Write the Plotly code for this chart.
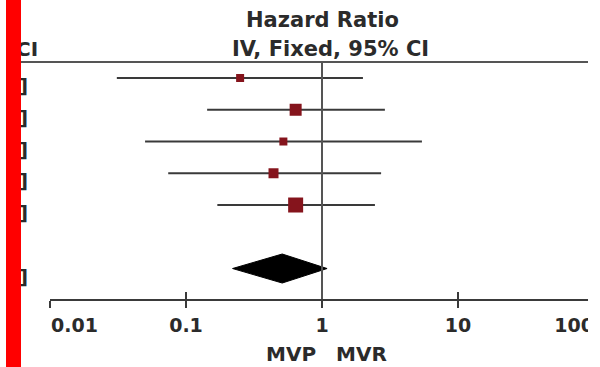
import plotly.graph_objects as go

# ---- data ----
study_est = [0.25, 0.64, 0.52, 0.44, 0.64]
ci_low = [0.031, 0.143, 0.050, 0.074, 0.17]
ci_high = [2.00, 2.90, 5.43, 2.72, 2.45]
weight_size = [8, 12, 8, 10, 15]
row_pos = [1, 2, 3, 4, 5]
pooled_est = 0.51
pooled_low = 0.22
pooled_high = 1.09
pooled_pos = 7
tick_vals = [0.01, 0.1, 1, 10, 100]
tick_labels = ["0.01", "0.1", "1", "10", "100"]
header_top = "Hazard Ratio"
header_bottom = "IV, Fixed, 95% CI"
ci_header_tail = "CI"
ci_text_tail = "]"
favours_left = "MVP"
favours_right = "MVR"

# ---- style ----
FONT = dict(family="DejaVu Sans", size=20, color="#2b2b2b", weight="bold")
HFONT = dict(family="DejaVu Sans", size=21, color="#2b2b2b", weight="bold")
LINE_C = "#3a3a3a"
MARK_C = "#85141c"
DIAMOND_HALF = 0.457

fig = go.Figure()

# CI lines
xs, ys = [], []
for lo, hi, r in zip(ci_low, ci_high, row_pos):
    xs += [lo, hi, None]
    ys += [r, r, None]
fig.add_trace(go.Scatter(x=xs, y=ys, mode="lines", line=dict(color=LINE_C, width=2),
                         hoverinfo="skip", showlegend=False))
# squares
fig.add_trace(go.Scatter(x=study_est, y=row_pos, mode="markers",
                         marker=dict(symbol="square", size=weight_size, color=MARK_C,
                                     opacity=1, line=dict(width=0)),
                         showlegend=False))
# pooled diamond
fig.add_trace(go.Scatter(
    x=[pooled_low, pooled_est, pooled_high, pooled_est, pooled_low],
    y=[pooled_pos, pooled_pos - DIAMOND_HALF, pooled_pos, pooled_pos + DIAMOND_HALF, pooled_pos],
    mode="lines", fill="toself", fillcolor="black", line=dict(color="black", width=1),
    showlegend=False, hoverinfo="skip"))
# empty traces so the overlay axes exist
fig.add_trace(go.Scatter(x=[], y=[], xaxis="x2", showlegend=False))
fig.add_trace(go.Scatter(x=[], y=[], xaxis="x3", showlegend=False))

tickfont = dict(family="DejaVu Sans", size=19, color="#2b2b2b", weight="bold")
common = dict(type="log", range=[-2, 2], showgrid=False, zeroline=False, fixedrange=True)

fig.update_layout(
    width=600, height=367,
    margin=dict(l=50, r=6, t=62, b=68),
    paper_bgcolor="white", plot_bgcolor="white",
    xaxis=dict(**common, showline=True, linecolor=LINE_C, linewidth=2,
               ticks="outside", ticklen=7, tickwidth=2, tickcolor=LINE_C,
               tickvals=tick_vals, ticktext=[""] + tick_labels[1:-1] + [""],
               tickfont=tickfont, ticklabelstandoff=1),
    xaxis2=dict(**common, overlaying="x", anchor="y", side="bottom", showline=False,
                ticks="inside", ticklen=7, tickwidth=2, tickcolor=LINE_C,
                tickvals=tick_vals, ticktext=[tick_labels[0]] + [""] * 4,
                ticklabelposition="outside right", tickfont=tickfont, ticklabelstandoff=13),
    xaxis3=dict(**common, overlaying="x", anchor="y", side="bottom", showline=False,
                ticks="", tickvals=[tick_vals[-1]], ticktext=[tick_labels[-1]],
                ticklabelposition="outside left", tickfont=tickfont, ticklabelstandoff=13),
    yaxis=dict(range=[7.96, 0.496], visible=False, fixedrange=True),
    showlegend=False,
)

# shapes
fig.add_shape(type="line", xref="x", yref="paper", x0=1, x1=1, y0=0, y1=1,
              line=dict(color="#555", width=2))
fig.add_shape(type="line", xref="paper", yref="paper", x0=-0.0533, x1=0.989, y0=1, y1=1,
              line=dict(color="#555", width=2))
fig.add_shape(type="rect", xref="paper", yref="paper", x0=0.989, x1=1.2, y0=-0.6, y1=1.6,
              fillcolor="white", line=dict(width=0), layer="above")

# text
fig.add_annotation(text=header_top, xref="x", x=0, yref="paper", y=1.177, showarrow=False,
                   xanchor="center", yanchor="middle", font=HFONT)
fig.add_annotation(text=header_bottom, xref="x", x=0, xshift=8, yref="paper", y=1.055, showarrow=False,
                   xanchor="center", yanchor="middle", font=HFONT)
fig.add_annotation(text=ci_header_tail, xref="paper", x=-0.0175, yref="paper", y=1.055, showarrow=False,
                   xanchor="right", yanchor="middle", font=FONT)
for r in row_pos + [pooled_pos]:
    fig.add_annotation(text=ci_text_tail, xref="paper", x=-0.037, yref="y", y=r, yshift=-8,
                       showarrow=False, xanchor="right", yanchor="middle", font=FONT)
fig.add_annotation(text=favours_left, xref="x", x=0, xshift=-4, yref="paper", y=-0.232, showarrow=False,
                   xanchor="right", yanchor="middle", font=FONT)
fig.add_annotation(text=favours_right, xref="x", x=0, xshift=12, yref="paper", y=-0.232, showarrow=False,
                   xanchor="left", yanchor="middle", font=FONT)
# red bar on the left edge, drawn last so it sits on top of the text
fig.add_annotation(text=" ", xref="paper", x=-0.0809, yref="paper", y=0.5, showarrow=False,
                   xanchor="left", yanchor="middle", width=15, height=420,
                   bgcolor="#ff0000", borderwidth=0, borderpad=0)

fig.write_html("out.html", post_script="document.body.style.margin='0';",
               config={"displayModeBar": False})
